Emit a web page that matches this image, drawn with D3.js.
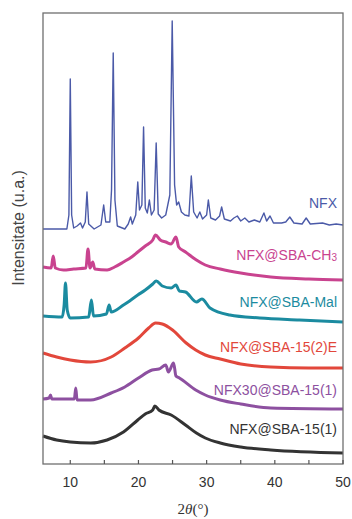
<!DOCTYPE html>
<html>
<head>
<meta charset="utf-8">
<script src="https://cdn.jsdelivr.net/npm/d3@7"></script>
<style>
  body { margin: 0; background: #fff; }
  svg { display: block; }
</style>
</head>
<body>
<div id="chart"></div>
<script>
// Data: 2theta (deg) vs stacked intensity (a.u.)
var nfx = [[6,235],[9.5,235],[9.8,249],[10.0,385],[10.2,249],[10.5,236],[11.0,238],[11.5,241],[11.8,236],
  [12.2,242],[12.45,272],[12.7,240],[13.5,235],[14.5,239],[14.9,259],[15.2,242],[15.8,242],[16.05,274],
  [16.3,411],[16.55,264],[16.9,238],[18.0,235],[18.5,240],[18.85,247],[19.1,240],[19.6,249],[19.9,282],
  [20.15,254],[20.5,259],[20.75,337],[21.0,256],[21.3,251],[21.6,264],[21.9,249],[22.3,254],[22.6,321],
  [22.9,250],[23.4,246],[24.0,249],[24.6,269],[24.95,443],[25.3,279],[25.6,259],[25.9,262],[26.3,252],
  [26.8,249],[27.4,248],[27.75,288],[28.1,252],[28.6,246],[29.0,252],[29.4,245],[30.0,249],[30.25,264],
  [30.6,246],[31.3,244],[31.9,248],[32.2,257],[32.6,245],[33.5,243],[34.0,246],[34.5,248],[35.0,243],
  [35.6,246],[36.2,242],[37.0,244],[37.8,242],[38.4,251],[38.8,243],[39.3,248],[39.8,241],[41.0,241],
  [41.6,242],[42.2,247],[42.8,241],[44.0,240],[44.6,246],[45.2,240],[47.0,241],[48.0,239],[49.0,240],[50,239]];

var sbaCH3 = [[6,197],[7.2,196],[7.5,208],[7.8,196],[9,194],[10.5,195],[12.3,196],[12.6,215],[12.9,196],
  [13.3,202],[13.6,195],[15.4,194],[16.5,197],[17.8,202],[19.0,207],[19.9,212],[21.0,218],[22.1,224],
  [22.5,229],[23.2,224],[24.0,222],[24.8,220],[25.5,227],[25.9,217],[26.9,212],[28.5,204],[29.8,199],
  [32,195],[35,191],[39.4,187],[45,185],[50,184]];

var sbaMal = [[6,148],[8.8,147],[9.1,159],[9.3,181],[9.55,154],[10,146],[12.7,147],[13.1,164],[13.4,148],
  [15.3,150],[15.7,159],[16.0,152],[17.8,159],[19.9,169],[21.0,174],[22.1,180],[22.6,183],[23.5,178],
  [24.8,176],[25.5,179],[26.0,173],[26.9,172],[28.5,162],[29.3,165],[30.5,156],[33.4,149],[37.8,146],
  [43.6,144],[50,142]];

var sba15_2E = [[6,111],[8,107],[10,104],[13,102],[16,107],[18,116],[20,126],[21.5,136],[22.5,141],
  [23.5,140],[25,134],[27,121],[28.4,114],[29.8,109],[32,105],[35,100],[39.4,97],[45,96],[50,96]];

var nfx30_15_1 = [[6,65],[6.9,66],[7.1,69],[7.3,65],[9,65],[10.6,65],[10.8,76],[11.0,64],[13,64],[16,71],
  [18,77],[20,86],[22,94],[23,95],[24,99],[24.4,92],[25.15,101],[25.5,88],[26,86],[28.4,74],[29.8,69],
  [32,64],[35,60],[39.4,56],[50,55]];

var sba15_1 = [[6,28],[8,24],[10,22],[13,21],[15.4,24],[17.8,32],[19.9,44],[21,50],[22.1,54],[22.4,58],
  [23,54],[24.8,49],[26.9,39],[28.5,31],[29.8,26],[32,21],[35,17],[39.4,14],[50,11]];

var seriesNames = ["NFX", "NFX@SBA-CH3", "NFX@SBA-Mal", "NFX@SBA-15(2)E", "NFX30@SBA-15(1)", "NFX@SBA-15(1)"];
var seriesData = [nfx, sbaCH3, sbaMal, sba15_2E, nfx30_15_1, sba15_1];
var seriesColors = ["#4b5aa8", "#c9438f", "#1b8ba0", "#e2473b", "#8d50a0", "#333333"];
var labelValues = [261, 209, 162, 117, 74, 35];
var xTicks = [10, 15, 20, 25, 30, 35, 40, 45, 50];
var xTickLabels = [10, 20, 30, 40, 50];

// Layout
var width = 352, height = 519;
var margin = { top: 13, right: 9, bottom: 55, left: 43 };
var innerW = width - margin.left - margin.right;
var innerH = height - margin.top - margin.bottom;

var svg = d3.select("#chart").append("svg").attr("width", width).attr("height", height);
var g = svg.append("g").attr("transform", `translate(${margin.left},${margin.top})`);

var x = d3.scaleLinear().domain([6, 50]).range([0, innerW]);
var y = d3.scaleLinear().domain([0, 451]).range([innerH, 0]);

// Traces
var line = d3.line().x(function (d) { return x(d[0]); }).y(function (d) { return y(d[1]); });
var smooth = d3.line().x(function (d) { return x(d[0]); }).y(function (d) { return y(d[1]); }).curve(d3.curveMonotoneX);

seriesData.forEach(function (s, i) {
  g.append("path")
    .datum(s)
    .attr("fill", "none")
    .attr("stroke", seriesColors[i])
    .attr("stroke-width", i === 0 ? 1.4 : 3)
    .attr("stroke-linejoin", "round")
    .attr("d", i === 0 ? line : smooth);
});

// Series labels
seriesNames.forEach(function (name, i) {
  var t = g.append("text")
    .attr("x", innerW - 6)
    .attr("y", y(labelValues[i]))
    .attr("text-anchor", "end")
    .attr("dy", "0.36em")
    .style("font-family", "'Liberation Sans', Arial, sans-serif")
    .style("font-size", "14px")
    .style("fill", seriesColors[i]);
  if (name.slice(-3) === "CH3") {
    t.append("tspan").text(name.slice(0, -1));
    t.append("tspan").attr("font-size", "10px").attr("dy", "1").text("3");
  } else {
    t.text(name);
  }
});

// Frame
g.append("rect")
  .attr("width", innerW).attr("height", innerH)
  .attr("fill", "none").attr("stroke", "#6f6f6f").attr("stroke-width", 1.3);

// Bottom axis with inward ticks
var xAxis = g.append("g").attr("transform", `translate(0,${innerH})`);
xAxis.selectAll("line.tick").data(xTicks).enter().append("line")
  .attr("class", "tick")
  .attr("x1", function (d) { return x(d); }).attr("x2", function (d) { return x(d); })
  .attr("y1", 0).attr("y2", -4)
  .attr("stroke", "#555").attr("stroke-width", 1.2);
xAxis.selectAll("text").data(xTickLabels).enter().append("text")
  .attr("x", function (d) { return x(d); })
  .attr("y", 23)
  .attr("text-anchor", "middle")
  .style("font-family", "'Liberation Sans', Arial, sans-serif")
  .style("font-size", "14px")
  .style("fill", "#333")
  .text(function (d) { return d; });

// Axis titles
var xt = svg.append("text")
  .attr("x", margin.left + innerW / 2)
  .attr("y", 514)
  .attr("text-anchor", "middle")
  .style("font-family", "'Liberation Serif', 'Times New Roman', serif")
  .style("font-size", "15px")
  .style("fill", "#333");
xt.append("tspan").text("2");
xt.append("tspan").style("font-style", "italic").text("θ");
xt.append("tspan").text("(°)");

svg.append("text")
  .attr("transform", "translate(24,228) rotate(-90)")
  .attr("text-anchor", "middle")
  .style("font-family", "'Liberation Sans', Arial, sans-serif")
  .style("font-size", "16px")
  .style("fill", "#444")
  .text("Intensitate (u.a.)");
</script>
</body>
</html>
